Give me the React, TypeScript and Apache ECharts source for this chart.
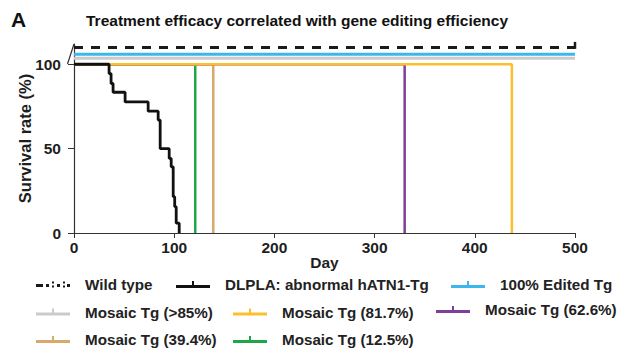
import React, { useEffect, useRef } from "react";
import * as echarts from "echarts";

const FONT = "'Liberation Sans', Arial, Helvetica, sans-serif";

const seriesNames = [
  "Wild type",
  "DLPLA: abnormal hATN1-Tg",
  "100% Edited Tg",
  "Mosaic Tg (>85%)",
  "Mosaic Tg (81.7%)",
  "Mosaic Tg (62.6%)",
  "Mosaic Tg (39.4%)",
  "Mosaic Tg (12.5%)",
];

const xTicks = [0, 100, 200, 300, 400, 500];
const yTicks = [0, 50, 100];

// Kaplan–Meier style step data [day, survival %]
const wildType = [
  [0, 110],
  [500, 110],
];
const edited100 = [
  [0, 106],
  [500, 106],
];
const mosaic85 = [
  [0, 103.5],
  [500, 103.5],
];
const mosaic817 = [
  [0, 100],
  [437, 100],
  [437, 0],
];
const mosaic626 = [
  [0, 100],
  [330, 0],
];
const mosaic394 = [
  [0, 100],
  [139, 0],
];
const mosaic125 = [
  [0, 100],
  [121, 0],
];
const dlpla = [
  [0, 100],
  [35, 94.5],
  [37, 88.6],
  [39, 83.4],
  [51, 77.7],
  [74, 72.2],
  [84, 66.9],
  [86, 50],
  [95, 44.2],
  [97, 39.2],
  [99, 21.5],
  [100.5, 15.6],
  [102, 5.8],
  [105, 0],
];

const colors = {
  wild: "#1a1a1a",
  dlpla: "#111111",
  edited: "#3db6ee",
  m85: "#cbcbcb",
  m817: "#fdbf2d",
  m626: "#7e3f98",
  m394: "#d8a96c",
  m125: "#1ea64b",
};

const ICON_TICK = "path://M0,4H34V7H0Z M16,0H18V4H16Z";
const ICON_DASH =
  "path://M0,3H7V6H0Z M10,3H13V6H10Z M16,0.5H18V2.5H16Z M16,4.5H18V6.5H16Z M21,3H24V6H21Z M27,0.5H29V2.5H27Z M27,4.5H29V6.5H27Z M31,3H34V6H31Z";

const legendPlacement: [string, number, number, string][] = [
  ["Wild type", 36, 285, ICON_DASH],
  ["DLPLA: abnormal hATN1-Tg", 176, 285, ICON_TICK],
  ["100% Edited Tg", 451, 285, ICON_TICK],
  ["Mosaic Tg (>85%)", 36, 312.5, ICON_TICK],
  ["Mosaic Tg (81.7%)", 233, 312.5, ICON_TICK],
  ["Mosaic Tg (62.6%)", 436, 310, ICON_TICK],
  ["Mosaic Tg (39.4%)", 36, 340, ICON_TICK],
  ["Mosaic Tg (12.5%)", 233, 340, ICON_TICK],
];

export default function App() {
  const ref = useRef<HTMLDivElement>(null);

  useEffect(() => {
    if (!ref.current) return;
    const chart = echarts.init(ref.current, null, { renderer: "svg" });

    const textBase = {
      fontFamily: FONT,
      fontWeight: "bold" as const,
      color: "#1e1e1e",
    };

    const mkLine = (
      name: string,
      data: any[],
      color: string,
      width: number,
      extra: any = {}
    ) => ({
      name,
      type: "line",
      data,
      symbol: "none",
      showSymbol: false,
      step: "end",
      lineStyle: { color, width },
      itemStyle: { color },
      emphasis: { disabled: true },
      ...extra,
    });

    const option: any = {
      animation: false,
      title: {
        text: "Treatment efficacy correlated with gene editing efficiency",
        left: 86,
        top: 12,
        padding: 0,
        textStyle: { ...textBase, fontSize: 15.5, color: "#111" },
      },
      graphic: [
        {
          type: "text",
          left: 11,
          top: 9,
          style: {
            text: "A",
            font: `bold 21px ${FONT}`,
            fill: "#111",
          },
        },
        {
          type: "line",
          shape: { x1: 67.5, y1: 64, x2: 74, y2: 44 },
          style: { stroke: "#333", lineWidth: 1.2 },
        },
      ],
      legend: legendPlacement.map(([name, left, cy, icon]) => ({
        data: [name],
        left,
        top: cy - 8,
        padding: 0,
        itemWidth: 34,
        itemHeight: 7,
        icon,
        selectedMode: false,
        itemStyle: { borderWidth: 0 },
        textStyle: {
          ...textBase,
          fontSize: 15.2,
          color: "#222",
          padding: [0, 0, 0, 10],
        },
      })),
      grid: { left: 74, right: 50, top: 44, bottom: 127 },
      xAxis: {
        type: "value",
        min: 0,
        max: 500,
        interval: 100,
        name: "Day",
        nameLocation: "middle",
        nameGap: 21,
        nameMoveOverlap: false,
        nameTextStyle: { ...textBase, fontSize: 15.5 },
        axisLine: { show: true, lineStyle: { color: "#333", width: 1.2 } },
        axisTick: { show: true, length: 5, lineStyle: { color: "#333" } },
        axisLabel: {
          ...textBase,
          fontSize: 15.5,
          margin: 6,
          customValues: xTicks,
        },
        splitLine: { show: false },
      },
      yAxis: {
        type: "value",
        min: 0,
        max: 112,
        name: "Survival rate (%)",
        nameLocation: "middle",
        nameGap: 41,
        nameMoveOverlap: false,
        nameTextStyle: { ...textBase, fontSize: 16.5 },
        axisLine: { show: true, lineStyle: { color: "#333", width: 1.2 } },
        axisTick: {
          show: true,
          length: 6,
          customValues: yTicks,
          lineStyle: { color: "#333" },
        },
        axisLabel: {
          ...textBase,
          fontSize: 15.5,
          margin: 13,
          customValues: yTicks,
        },
        splitLine: { show: false },
      },
      series: [
        mkLine(seriesNames[3], mosaic85, colors.m85, 3),
        mkLine(seriesNames[2], edited100, colors.edited, 3),
        mkLine(
          seriesNames[0],
          [
            wildType[0],
            {
              value: wildType[1],
              symbol: "rect",
              symbolSize: [2.5, 7],
              symbolOffset: [0, -2],
            },
          ],
          colors.wild,
          3,
          { showSymbol: true, lineStyle: { color: colors.wild, width: 3, type: [9, 8] } }
        ),
        mkLine(seriesNames[7], mosaic125, colors.m125, 2.5),
        mkLine(seriesNames[6], mosaic394, colors.m394, 2.5),
        mkLine(seriesNames[5], mosaic626, colors.m626, 2.5),
        mkLine(seriesNames[4], mosaic817, colors.m817, 2.5),
        mkLine(seriesNames[1], dlpla, colors.dlpla, 2.8),
      ],
    };

    chart.setOption(option);
    return () => chart.dispose();
  }, []);

  return <div ref={ref} style={{ width: 625, height: 360, margin: -8 }} />;
}
